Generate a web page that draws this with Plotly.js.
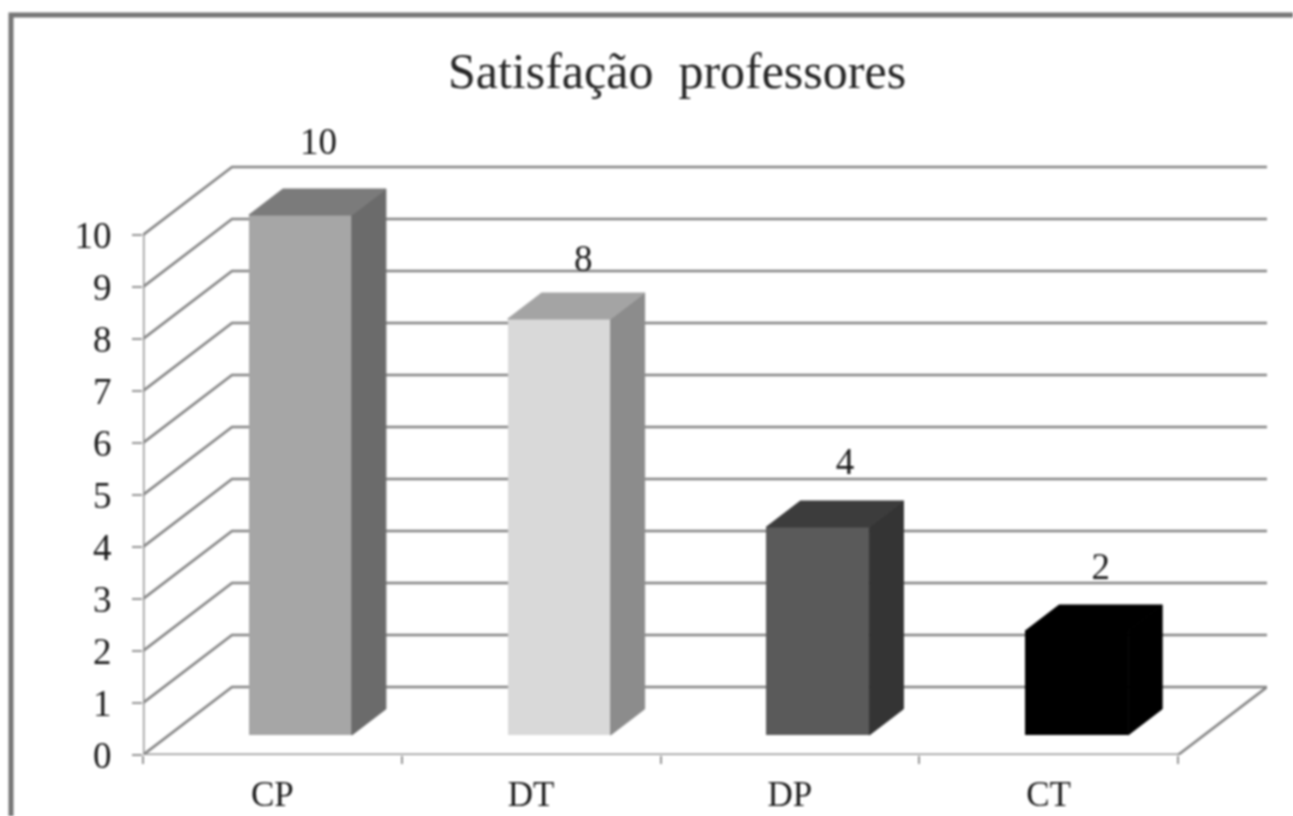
<!DOCTYPE html>
<html><head><meta charset="utf-8">
<script src="https://cdn.plot.ly/plotly-3.0.1.min.js"></script>
<style>html,body{margin:0;padding:0;background:#fff;overflow:hidden}#c{width:1293px;height:816px;filter:blur(0.9px)}</style>
</head><body><div id="c"></div>
<script>
const categories = ['CP','DT','DP','CT'];
const values = [10,8,4,2];
const titleText = 'Satisfação\u00A0\u00A0professores';
const yTicks = [0,1,2,3,4,5,6,7,8,9,10];
const frontColors = ['#a6a6a6','#d9d9d9','#5a5a5a','#000000'];
const sideColors  = ['#6b6b6b','#8c8c8c','#343434','#000000'];
const topColors   = ['#7b7b7b','#a4a4a4','#3c3c3c','#000000'];

// scales: px per data unit on each axis
const W=1293,H=816,L=143,R=1267,B=755,T=110;
const pxX=(1178-143)/4, pxY=52;
const xMax=(R-L)/pxX, yMax=(B-T)/pxY;
// 3D projection, in data units
const wallX=89/pxX, wallY=68/pxY;      // depth of the chart floor
const liftX=28/pxX, liftY=20/pxY;      // how far the bar base sits behind the front edge
const depthX=34/pxX, depthY=26/pxY;    // depth of a bar
const barW=103/pxX;
const labelDX=[18,24,27,24], labelDY=[70,57,62,61]; // data-label nudges in px

const centers=categories.map((c,i)=>i+0.5+liftX);
const gridColor='#858585', axisColor='#949494';
const shapes=[];
function path(pts,color,width){
  shapes.push({type:'path',layer:'below',xref:'x',yref:'y',
    path:pts.map((p,i)=>(i?'L':'M')+p[0]+','+p[1]).join(' '),
    line:{color:color,width:width}});
}
yTicks.forEach(v=>{ path([[0,v],[wallX,v+wallY],[xMax,v+wallY]],gridColor,2.6); });
path([[categories.length,0],[categories.length+wallX,wallY]],gridColor,2.6);
path([[0,0],[0,10]],axisColor,3);
path([[0,0],[categories.length,0]],axisColor,3);
// chart frame, in paper coordinates that equal the whole page
shapes.push({type:'rect',layer:'below',xref:'paper',yref:'paper',
  x0:11/W,x1:1.02,y0:-0.02,y1:1-15/H,line:{color:'#757575',width:5},fillcolor:'rgba(0,0,0,0)'});

const traces=[{
  type:'bar',x:centers,y:values,base:values.map(()=>liftY),width:barW,
  marker:{color:frontColors,line:{width:0}},hoverinfo:'skip',showlegend:false
}];
values.forEach((v,i)=>{
  const x0=centers[i]-barW/2,x1=centers[i]+barW/2,y0=liftY,y1=liftY+v;
  traces.push({type:'scatter',mode:'lines',fill:'toself',fillcolor:sideColors[i],line:{width:1,color:sideColors[i]},
    x:[x1,x1+depthX,x1+depthX,x1,x1],y:[y0,y0+depthY,y1+depthY,y1,y0],hoverinfo:'skip',showlegend:false});
  traces.push({type:'scatter',mode:'lines',fill:'toself',fillcolor:topColors[i],line:{width:1,color:topColors[i]},
    x:[x0,x0+depthX,x1+depthX,x1,x0],y:[y1,y1+depthY,y1+depthY,y1,y1],hoverinfo:'skip',showlegend:false});
});
traces.push({type:'scatter',mode:'text',cliponaxis:false,
  x:values.map((v,i)=>centers[i]+labelDX[i]/pxX),
  y:values.map((v,i)=>liftY+v+labelDY[i]/pxY),
  text:values.map(String),textposition:'middle center',
  textfont:{family:'"Liberation Serif",serif',size:37,color:'#1a1a1a'},hoverinfo:'skip',showlegend:false});

const layout={
  width:W,height:H,margin:{l:0,r:0,t:0,b:0},paper_bgcolor:'#fff',plot_bgcolor:'rgba(0,0,0,0)',
  showlegend:false,shapes:shapes,bargap:0,
  font:{family:'"Liberation Serif",serif',color:'#1a1a1a'},
  title:{text:titleText,font:{family:'"Liberation Serif",serif',size:50,color:'#262626'},
    x:677/W,xanchor:'center',y:1-70/H,yanchor:'middle'},
  xaxis:{domain:[L/W,R/W],range:[0,xMax],showgrid:false,zeroline:false,showline:false,
    tickmode:'array',tickvals:categories.map((c,i)=>i+0.5),ticktext:categories,ticks:'',
    tickfont:{size:35,color:'#1a1a1a'},ticklabelstandoff:15,
    minor:{tickmode:'array',tickvals:[0,1,2,3,4],ticks:'outside',ticklen:8,tickwidth:2,tickcolor:axisColor,showgrid:false}},
  yaxis:{domain:[1-B/H,1-T/H],range:[0,yMax],showgrid:false,zeroline:false,showline:false,
    tickmode:'array',tickvals:yTicks,ticktext:yTicks.map(String),ticks:'outside',ticklen:10,tickwidth:2,tickcolor:axisColor,
    tickfont:{size:37,color:'#1a1a1a'},ticklabelstandoff:13}
};
Plotly.newPlot('c',traces,layout,{displayModeBar:false,staticPlot:true});
</script></body></html>
